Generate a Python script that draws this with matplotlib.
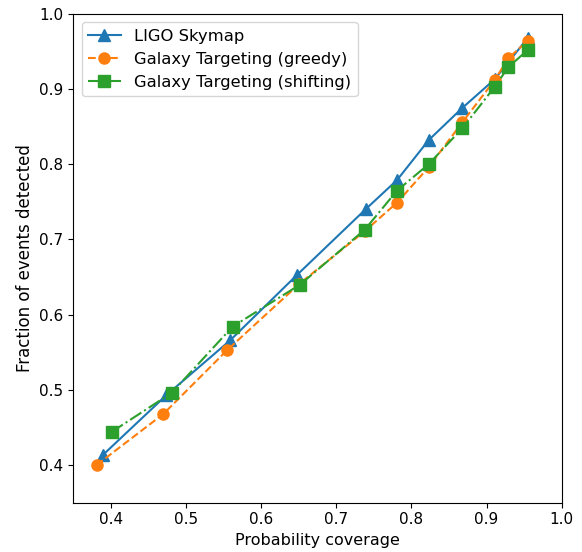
import matplotlib

matplotlib.use("Agg")
import matplotlib.pyplot as plt

# values
ligo_x = [0.389, 0.474, 0.559, 0.648, 0.739, 0.781, 0.823, 0.868, 0.911, 0.955]
ligo_y = [0.413, 0.493, 0.566, 0.653, 0.740, 0.779, 0.832, 0.875, 0.913, 0.968]

greedy_x = [0.381, 0.470, 0.555, 0.651, 0.738, 0.781, 0.823, 0.868, 0.911, 0.929, 0.955]
greedy_y = [0.400, 0.468, 0.553, 0.641, 0.711, 0.749, 0.796, 0.856, 0.912, 0.941, 0.964]

shift_x = [0.401, 0.481, 0.562, 0.652, 0.738, 0.781, 0.823, 0.868, 0.911, 0.929, 0.955]
shift_y = [0.444, 0.496, 0.584, 0.640, 0.713, 0.765, 0.800, 0.848, 0.903, 0.929, 0.952]

fig, ax = plt.subplots(figsize=(5.82, 5.52), dpi=100)
fig.subplots_adjust(left=0.126, right=0.965, top=0.975, bottom=0.0895)

ax.plot(ligo_x, ligo_y, "-^", color="C0", ms=8, lw=1.5, label="LIGO Skymap")
ax.plot(greedy_x, greedy_y, "--o", color="C1", ms=8, lw=1.5,
        label="Galaxy Targeting (greedy)")
ax.plot(shift_x, shift_y, "-.s", color="C2", ms=8, lw=1.5,
        label="Galaxy Targeting (shifting)")

ax.set_xlim(0.35, 1.0)
ax.set_ylim(0.35, 1.0)
ax.tick_params(labelsize=11)
ax.set_xlabel("Probability coverage", fontsize=11.5)
ax.set_ylabel("Fraction of events detected", fontsize=12)
ax.legend(loc="upper left", fontsize=11.8, labelspacing=0.5)

fig.savefig("out.png", dpi=100)
plt.close(fig)
